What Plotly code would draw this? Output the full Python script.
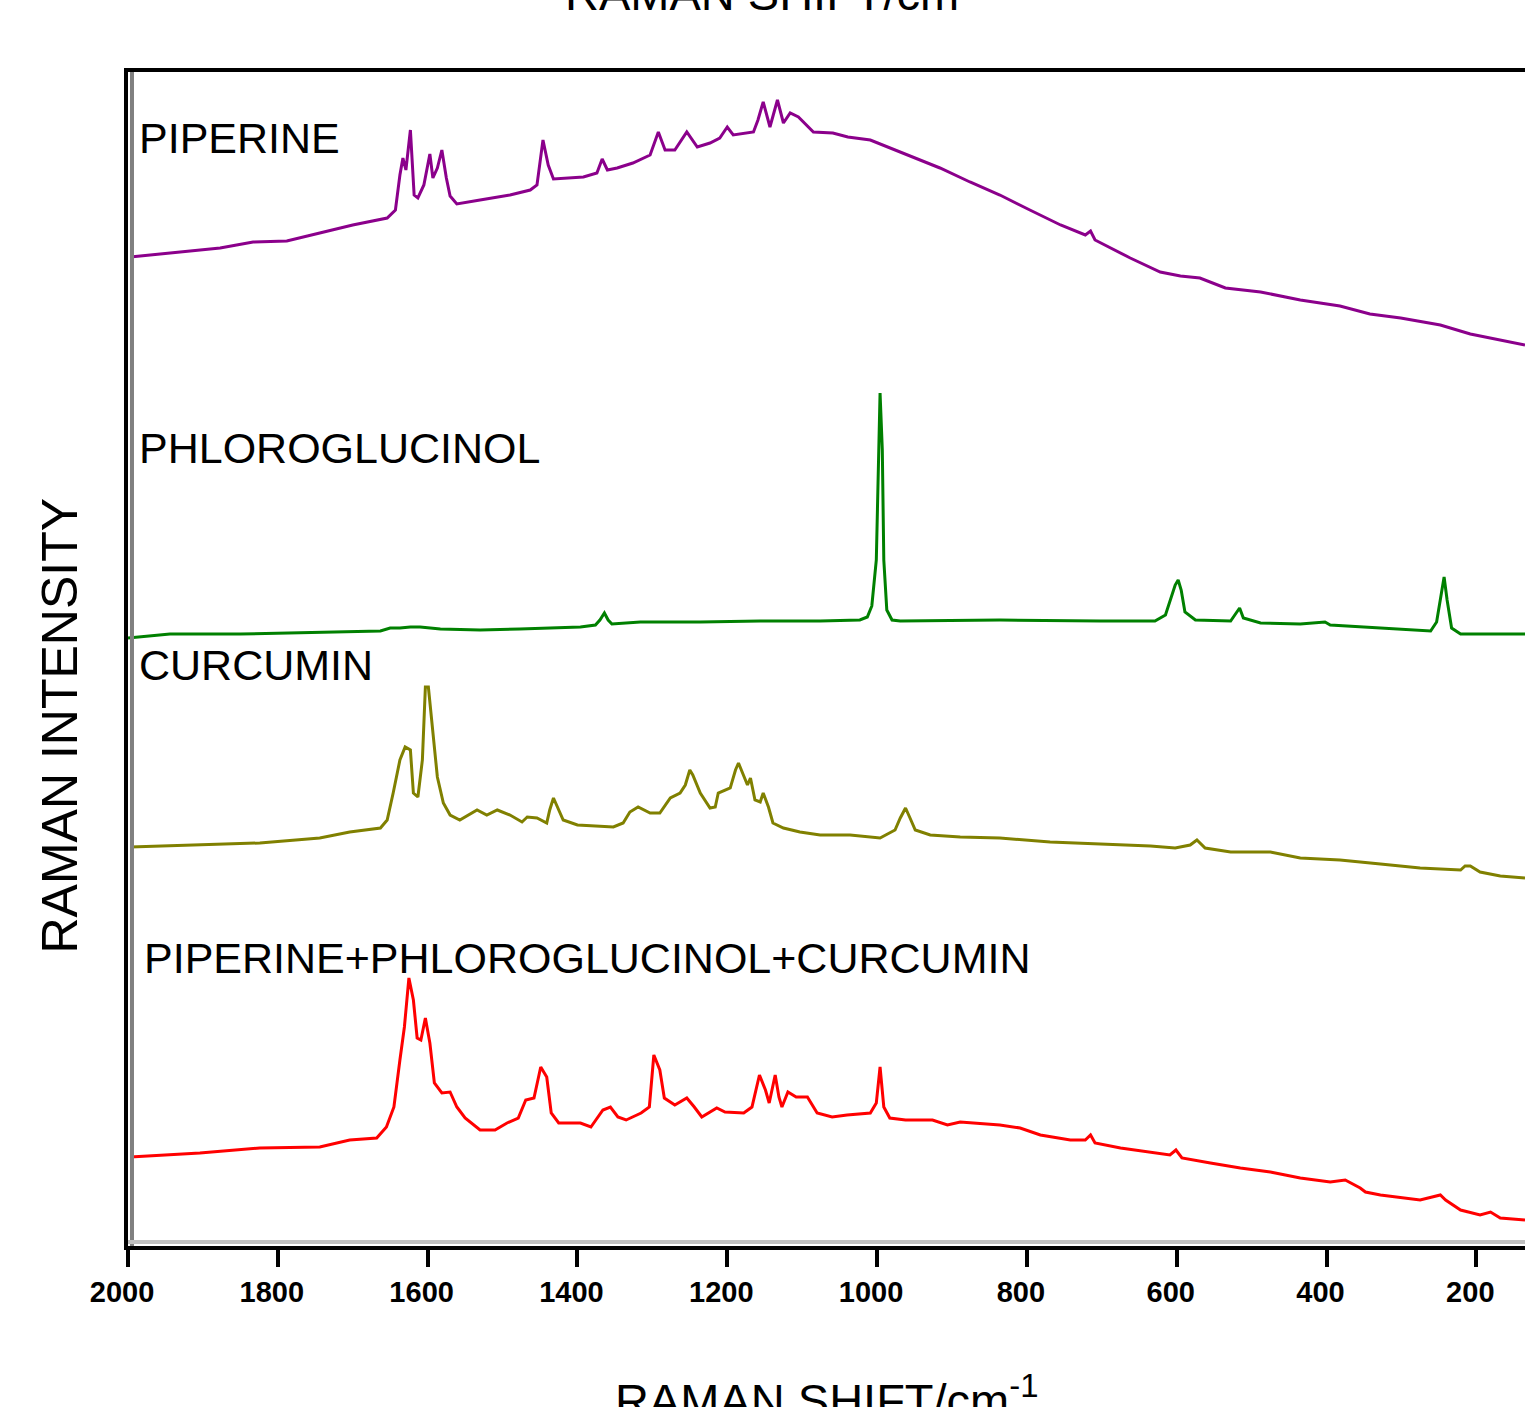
import plotly.graph_objects as go

# Raman shift (cm-1) and intensity (arbitrary units)
piperine_x = [1997, 1944, 1877, 1833, 1788, 1744, 1700, 1654, 1643, 1637, 1633, 1629, 1623, 1618, 1613,
              1605, 1597, 1593, 1587, 1581, 1575, 1570, 1561, 1530, 1490, 1463, 1454, 1446, 1439, 1432,
              1392, 1374, 1367, 1360, 1347, 1326, 1303, 1292, 1283, 1270, 1254, 1240, 1223, 1210, 1200,
              1192, 1165, 1159, 1152, 1143, 1133, 1125, 1116, 1105, 1085, 1059, 1039, 1009, 969, 916,
              876, 836, 796, 755, 722, 715, 709, 662, 622, 595, 569, 535, 488, 435, 382, 342, 301,
              248, 208, 168, 135]
piperine_y = [988, 992, 997, 1003, 1004, 1012, 1020, 1027, 1035, 1070, 1087, 1075, 1115, 1050, 1047,
              1060, 1091, 1067, 1077, 1095, 1067, 1049, 1041, 1045, 1050, 1055, 1060, 1105, 1080, 1066,
              1068, 1072, 1086, 1075, 1077, 1082, 1090, 1113, 1095, 1095, 1113, 1098, 1102, 1107, 1118,
              1110, 1113, 1125, 1143, 1118, 1145, 1122, 1132, 1128, 1113, 1112, 1108, 1105, 1093, 1077,
              1063, 1050, 1035, 1020, 1010, 1014, 1005, 987, 973, 969, 967, 957, 953, 945, 939, 931, 927,
              920, 911, 905, 900]

phloro_x = [2000, 1971, 1944, 1850, 1770, 1730, 1663, 1650, 1637, 1623, 1610, 1583, 1530, 1477, 1423,
            1396, 1376, 1370, 1364, 1359, 1354, 1316, 1236, 1156, 1076, 1023, 1013, 1007, 1001, 998,
            996, 993, 991, 987, 980, 969, 836, 702, 629, 615, 609, 602, 598, 594, 589, 575, 528, 520,
            516, 511, 488, 435, 402, 395, 328, 261, 253, 248, 243, 239, 233, 221, 135]
phloro_y = [607, 609, 611, 611, 612, 613, 614, 617, 617, 618, 618, 616, 615, 616, 617,
            618, 620, 625, 632, 625, 621, 623, 623, 624, 624, 625, 628, 639, 685, 795,
            852, 795, 685, 635, 625, 624, 625, 624, 624, 630, 645, 660, 665, 655, 633, 625, 624, 633,
            637, 627, 622, 621, 623, 620, 617, 614, 623, 645, 668, 645, 617, 611, 611]

curcumin_x = [1997, 1904, 1824, 1744, 1704, 1663, 1654, 1646, 1637, 1630, 1623, 1619, 1613, 1607, 1603,
              1599, 1594, 1587, 1579, 1570, 1557, 1534, 1521, 1507, 1490, 1474, 1467, 1454, 1441, 1437,
              1432, 1426, 1419, 1400, 1352, 1339, 1330, 1319, 1303, 1290, 1276, 1263, 1256, 1250, 1246,
              1236, 1223, 1216, 1212, 1196, 1189, 1185, 1179, 1173, 1169, 1163, 1156, 1152, 1145, 1139,
              1125, 1103, 1076, 1036, 996, 976, 969, 962, 956, 949, 929, 889, 836, 769, 702, 635, 602,
              582, 573, 562, 528, 475, 435, 382, 328, 275, 221, 215, 208, 195, 168, 135]
curcumin_y = [398, 400, 402, 407, 413, 417, 425, 452, 485, 498, 495, 452, 448, 485, 558,
              558, 518, 468, 442, 430, 425, 435, 430, 435, 430, 423, 428, 427, 422, 435,
              447, 437, 425, 420, 418, 422, 433, 438, 432, 432, 447, 452, 460, 475, 470,
              452, 437, 438, 452, 457, 475, 482, 470, 460, 467, 445, 443, 452, 438, 422,
              417, 413, 410, 410, 407, 415, 427, 437, 427, 415, 410, 408, 407, 403, 401, 399, 397,
              400, 405, 397, 393, 393, 387, 385, 381, 377, 375, 379, 379, 373, 369, 367]

mix_x = [1997, 1904, 1824, 1744, 1704, 1668, 1655, 1645, 1637, 1631, 1625, 1619, 1614, 1609, 1603,
         1597, 1591, 1581, 1570, 1561, 1550, 1530, 1510, 1494, 1479, 1469, 1458, 1449, 1441, 1435,
         1425, 1396, 1382, 1366, 1356, 1346, 1335, 1315, 1304, 1298, 1290, 1284, 1270, 1254, 1244,
         1234, 1214, 1203, 1178, 1167, 1157, 1149, 1144, 1136, 1131, 1127, 1119, 1108, 1093, 1080,
         1060, 1040, 1009, 1001, 996, 991, 983, 962, 926, 906, 889, 836, 809, 782, 742, 722, 715,
         709, 675, 635, 609, 601, 593, 555, 515, 475, 435, 395, 375, 355, 348, 328, 275, 248, 241,
         221, 195, 181, 168, 135]
mix_y = [88, 92, 97, 98, 105, 107, 118, 138, 185, 218, 267, 245, 207, 205, 227,
         202, 162, 152, 153, 138, 127, 115, 115, 122, 127, 145, 147, 178, 168, 132,
         122, 122, 118, 135, 138, 128, 125, 132, 138, 190, 175, 147, 140, 147, 138,
         128, 137, 133, 132, 138, 170, 155, 142, 170, 148, 138, 153, 148, 148, 132,
         128, 130, 132, 142, 178, 138, 127, 125, 125, 120, 123, 120, 117, 110, 105, 105, 110,
         102, 97, 93, 90, 95, 87, 82, 77, 73, 67, 63, 65, 57, 53, 50, 45, 50, 45,
         35, 30, 33, 27, 25]

tick_vals = [2000, 1800, 1600, 1400, 1200, 1000, 800, 600, 400, 200]
tick_text = [str(v) for v in tick_vals]

series = [
    ("PIPERINE", piperine_x, piperine_y, "#8B008B"),
    ("PHLOROGLUCINOL", phloro_x, phloro_y, "#008000"),
    ("CURCUMIN", curcumin_x, curcumin_y, "#808000"),
    ("PIPERINE+PHLOROGLUCINOL+CURCUMIN", mix_x, mix_y, "#FF0000"),
]

FONT = "Arial, 'Liberation Sans', sans-serif"

fig = go.Figure()
for name, xs, ys, col in series:
    fig.add_trace(go.Scatter(x=xs, y=ys, mode="lines", name=name,
                             line=dict(color=col, width=3), showlegend=False))

# series labels
labels = [("PIPERINE", 0.0065, 0.9437), ("PHLOROGLUCINOL", 0.0065, 0.680),
          ("CURCUMIN", 0.0065, 0.4953), ("PIPERINE+PHLOROGLUCINOL+CURCUMIN", 0.010, 0.2455)]
for txt, x, y in labels:
    fig.add_annotation(text=txt, x=x, y=y, xref="paper", yref="paper", xanchor="left",
                       yanchor="middle", showarrow=False, font=dict(family=FONT, size=43, color="black"))

# axis titles
fig.add_annotation(text="RAMAN SHIFT/cm<sup>-1</sup>", x=0.5, y=-0.1290, xref="paper", yref="paper",
                   xanchor="center", yanchor="middle", showarrow=False,
                   font=dict(family=FONT, size=47, color="black"))
fig.add_annotation(text="RAMAN SHIFT/cm<sup>-1</sup>", x=(563 - 128) / 1397, y=1.070, xref="paper",
                   yref="paper", xanchor="left", yanchor="middle", showarrow=False,
                   font=dict(family=FONT, size=47, color="black"))
fig.add_annotation(text="RAMAN INTENSITY", x=-0.0487, y=0.4433, xref="paper", yref="paper",
                   xanchor="center", yanchor="middle", textangle=-90, showarrow=False,
                   font=dict(family=FONT, size=50, color="black"))

# inner grey shadow lines along the axes
fig.add_shape(type="line", xref="paper", yref="paper", x0=0.00286, x1=0.00286, y0=0.0, y1=1.0,
              line=dict(color="#808080", width=4))
fig.add_shape(type="line", xref="paper", yref="paper", x0=0.0, x1=1.0, y0=0.0034, y1=0.0034,
              line=dict(color="#C0C0C0", width=4))

fig.update_layout(
    width=1525, height=1407,
    margin=dict(l=128, r=0, t=72, b=161),
    paper_bgcolor="white", plot_bgcolor="white",
    xaxis=dict(range=[2000, 135], tickvals=tick_vals, ticktext=tick_text, ticks="outside",
               ticklen=17, tickwidth=4, tickcolor="black", showline=True, linecolor="black",
               linewidth=4, mirror=True, showgrid=False, zeroline=False, ticklabelshift=6,
               tickfont=dict(family=FONT, size=29, color="black", weight="bold")),
    yaxis=dict(range=[-1, 1173], showticklabels=False, ticks="", showline=True, linecolor="black",
               linewidth=4, mirror=False, showgrid=False, zeroline=False),
)

fig.write_html("out.html")
